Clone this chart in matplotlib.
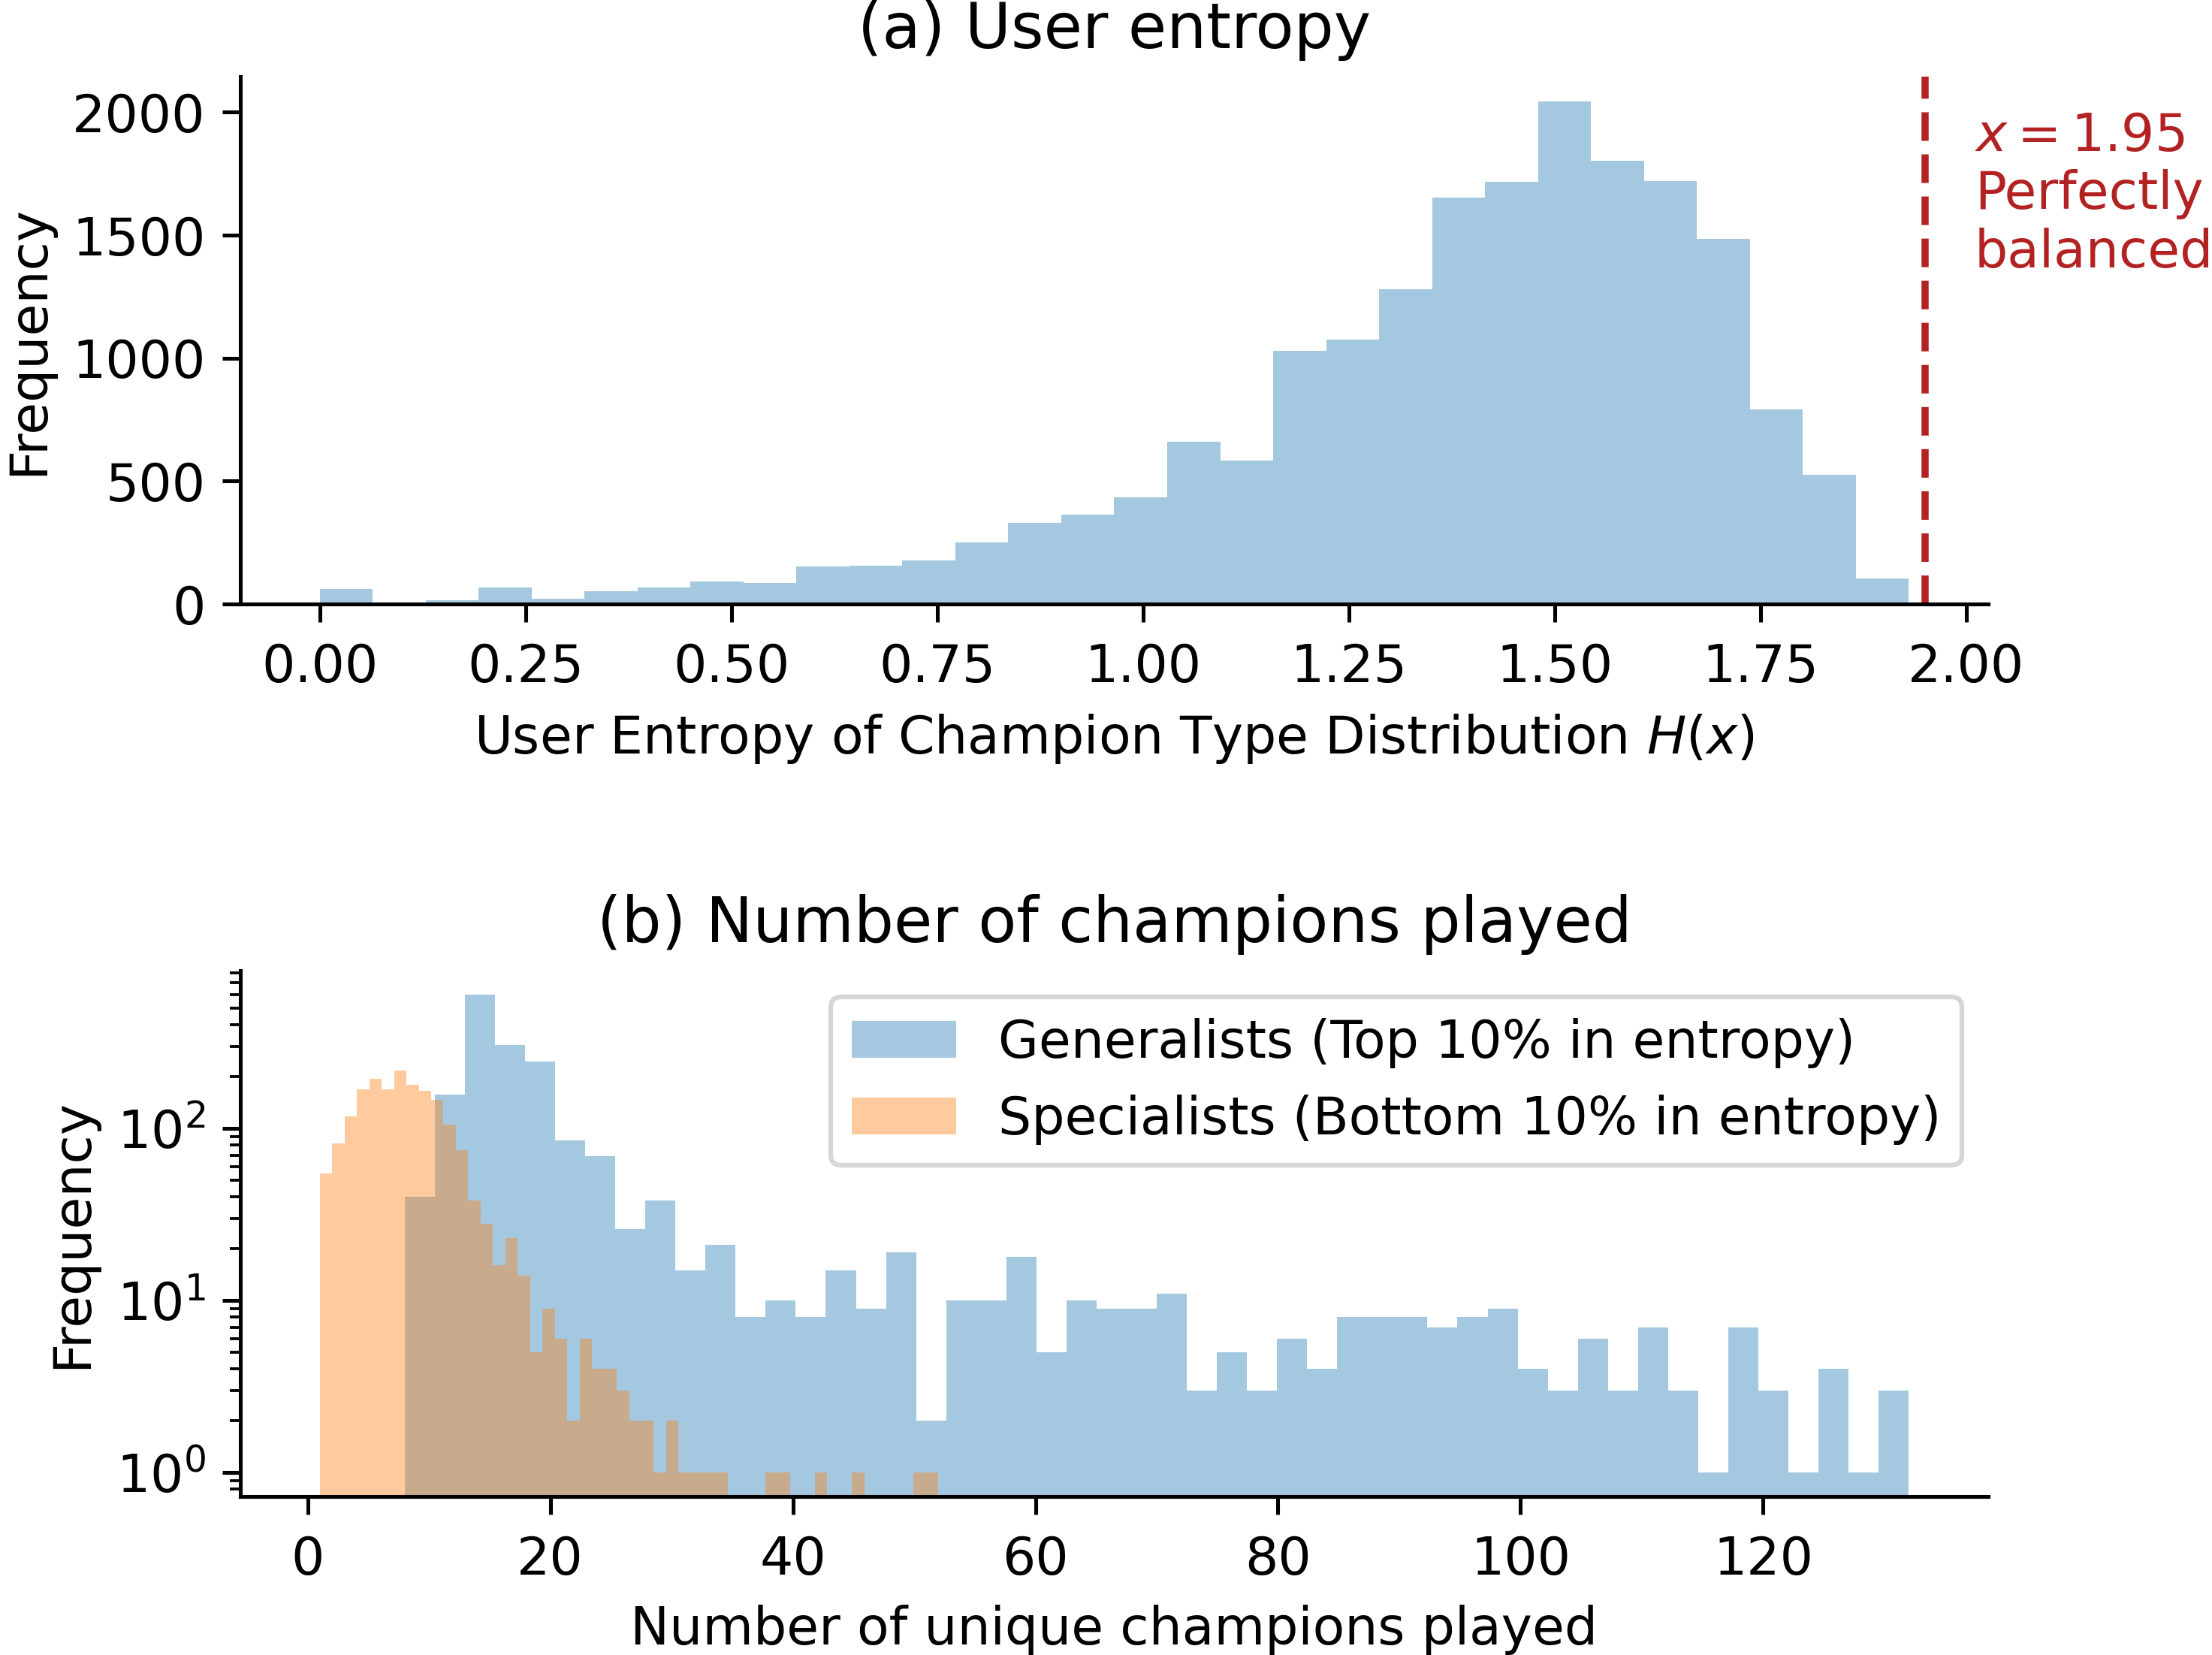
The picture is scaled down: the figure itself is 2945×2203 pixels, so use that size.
import numpy as np
import matplotlib
matplotlib.use("Agg")
import matplotlib.pyplot as plt

plt.rcParams['font.size'] = 11
plt.rcParams['xtick.major.size'] = 3.8
plt.rcParams['ytick.major.size'] = 3.8
plt.rcParams['ytick.minor.size'] = 2.2
plt.rcParams['xtick.major.pad'] = 4.3
plt.rcParams['ytick.major.pad'] = 3.5

# ---------------- data ----------------
# (a) user entropy histogram: 30 equal bins spanning the observed range
entropy_range = (0.0, 1.93)
entropy_counts = [62, 0, 15, 68, 21, 52, 68, 93, 87, 153,
                  156, 177, 252, 331, 363, 435, 659, 585, 1030, 1075,
                  1281, 1652, 1718, 2043, 1802, 1720, 1486, 791, 525, 103]
balanced_x = 1.95
balanced_label = '$x = 1.95$\nPerfectly\nbalanced'

# (b) number of unique champions played: 50 equal bins per group
gen_range = (8, 132)
gen_counts = [40, 158, 600, 306, 246, 85, 69, 26, 38, 15,
              21, 8, 10, 8, 15, 9, 19, 2, 10, 10,
              18, 5, 10, 9, 9, 11, 3, 5, 3, 6,
              4, 8, 8, 8, 7, 8, 9, 4, 3, 6,
              3, 7, 3, 1, 7, 3, 1, 4, 1, 3]
spec_range = (1, 52)
spec_counts = [55, 82, 117, 169, 195, 169, 218, 180, 165, 146,
               105, 75, 38, 28, 16, 23, 14, 5, 9, 6,
               2, 6, 4, 4, 3, 2, 2, 1, 2, 1,
               1, 1, 1, 0, 0, 0, 1, 1, 0, 0,
               1, 0, 0, 1, 0, 0, 0, 0, 1, 1]
gen_label = 'Generalists (Top 10% in entropy)'
spec_label = 'Specialists (Bottom 10% in entropy)'

RED = '#b22222'
DPI = 456


def edges_and_centers(rng, counts):
    e = np.linspace(rng[0], rng[1], len(counts) + 1)
    return e, (e[:-1] + e[1:]) / 2


fig = plt.figure(figsize=(2945 / DPI, 2203 / DPI), dpi=DPI)
ax1 = fig.add_axes([0.10866, 0.63504, 0.79014, 0.31866])
ax2 = fig.add_axes([0.10866, 0.09578, 0.79014, 0.31775])

# ---------------- (a) ----------------
e, c = edges_and_centers(entropy_range, entropy_counts)
ax1.hist(c, bins=e, weights=entropy_counts, color='C0', alpha=0.4)
ax1.axvline(balanced_x, color=RED, ls=(0, (4.0, 1.9)), lw=1.5)
ax1.text(balanced_x + 0.06, 0.935, balanced_label, color=RED,
         transform=ax1.get_xaxis_transform(), ha='left', va='top')
span = entropy_range[1] - entropy_range[0]
ax1.set_xlim(entropy_range[0] - 0.05 * span, entropy_range[1] + 0.05 * span)
ax1.set_ylim(0, max(entropy_counts) * 1.05)
ax1.set_title('(a) User entropy')
ax1.set_xlabel('User Entropy of Champion Type Distribution $H(x)$')
ax1.set_ylabel('Frequency')

# ---------------- (b) ----------------
ge, gc = edges_and_centers(gen_range, gen_counts)
se, sc = edges_and_centers(spec_range, spec_counts)
ax2.hist(gc, bins=ge, weights=gen_counts, color='C0', alpha=0.4,
         log=True, label=gen_label)
ax2.hist(sc, bins=se, weights=spec_counts, color='C1', alpha=0.4,
         log=True, label=spec_label)
xmin = min(gen_range[0], spec_range[0])
xmax = max(gen_range[1], spec_range[1])
xs = xmax - xmin
ax2.set_xlim(xmin - 0.05 * xs, xmax + 0.05 * xs)
lspan = np.log10(max(max(gen_counts), max(spec_counts)))
ax2.set_ylim(10 ** (-0.05 * lspan), 10 ** (1.05 * lspan))
ax2.set_title('(b) Number of champions played')
ax2.set_xlabel('Number of unique champions played')
ax2.set_ylabel('Frequency')
ax2.legend(loc='upper right')

for ax in (ax1, ax2):
    ax.spines['top'].set_visible(False)
    ax.spines['right'].set_visible(False)

fig.savefig('out.png', dpi=DPI)
